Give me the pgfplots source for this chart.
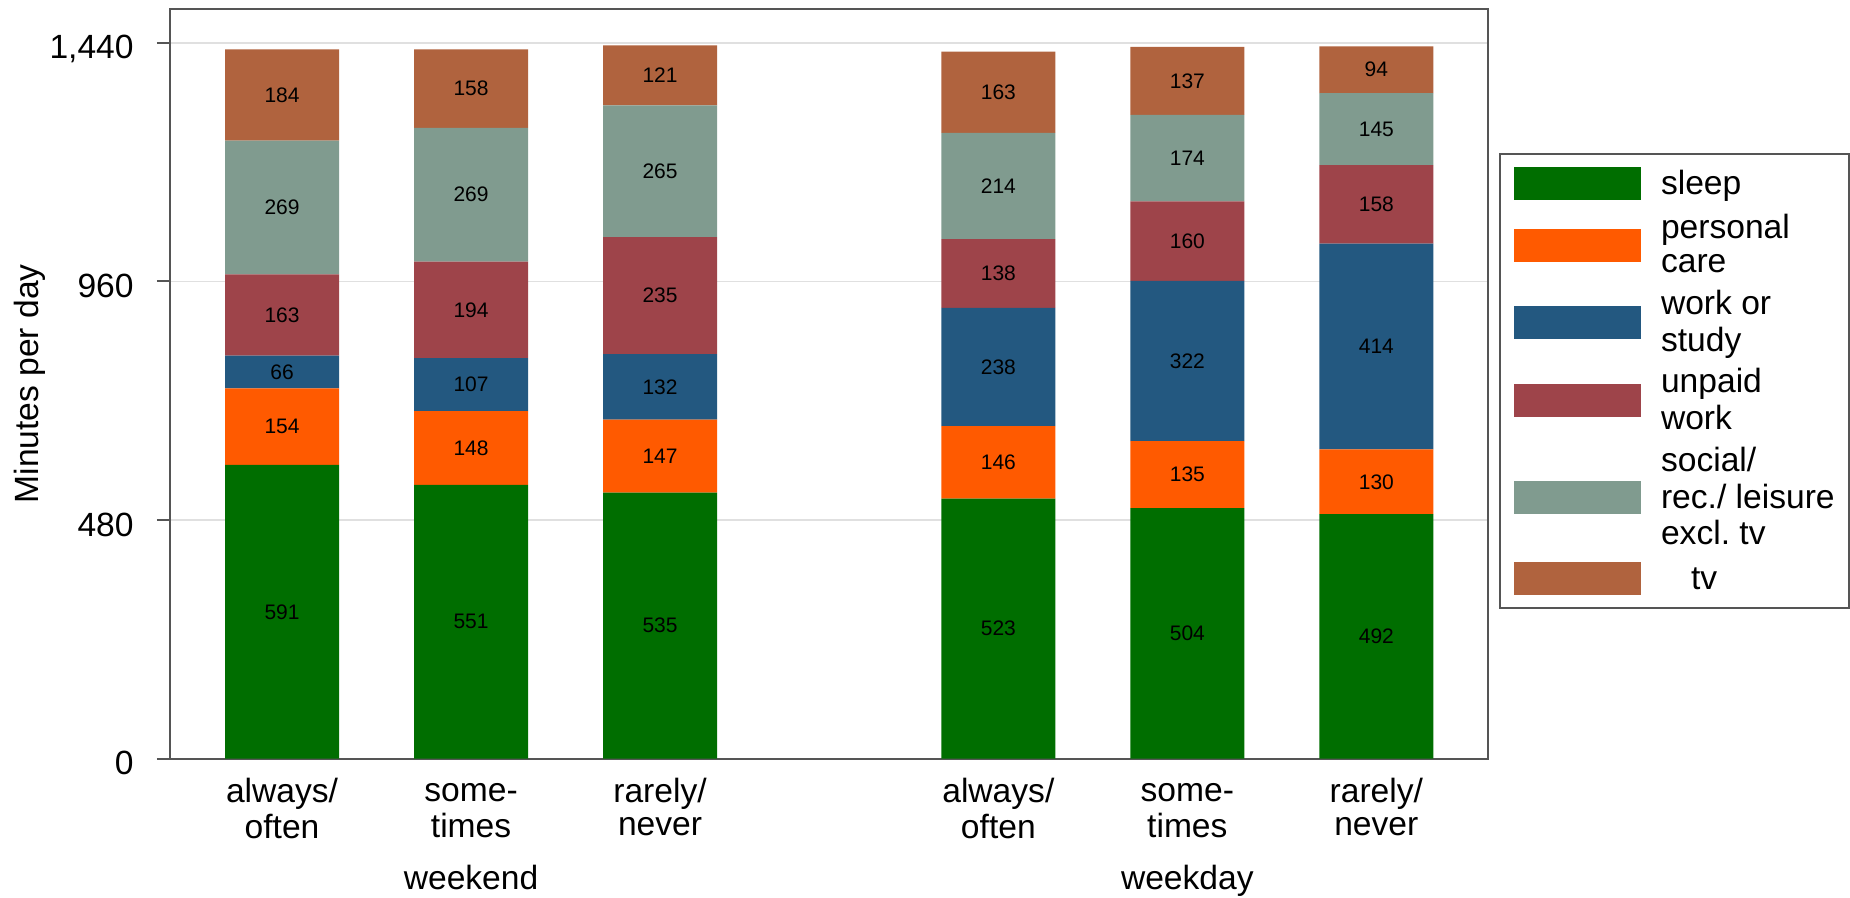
\documentclass[border=0pt]{standalone}
\usepackage{fontspec}
\setmainfont{Liberation Sans}
\usepackage{pgfplots}
\usepackage{pgfplotstable}
\pgfplotsset{compat=1.18}
\frenchspacing

\definecolor{csleep}{RGB}{0,110,0}
\definecolor{cpcare}{RGB}{255,90,0}
\definecolor{cwork}{RGB}{35,88,128}
\definecolor{cunpaid}{RGB}{158,68,74}
\definecolor{csocial}{RGB}{128,155,143}
\definecolor{ctv}{RGB}{176,99,62}
\definecolor{framegray}{RGB}{85,85,85}

\newcommand\bigfont{\fontsize{16.8}{16.5}\selectfont}
\newcommand\st{\rule[-5pt]{0pt}{16.5pt}}
\newcommand\lgfont{\fontsize{16.8}{17}\selectfont}
\newcommand\ls{\rule[-5.2pt]{0pt}{17pt}}

% minutes per day, weekend groups at 0-2, weekday groups at 3.79-5.79
\pgfplotstableread{
x     sleep pcare work unpaid social tv
0     591   154   66   163    269    184
1     551   148   107  194    269    158
2     535   147   132  235    265    121
3.79  523   146   238  138    214    163
4.79  504   135   322  160    174    137
5.79  492   130   414  158    145    94
}\minutes

\begin{document}
\begin{tikzpicture}
\begin{axis}[
  name=ax,
  x=94.5pt, y=0.2486pt,
  xmin=-0.593, xmax=6.381, ymin=0, ymax=1508,
  clip=false,
  ybar stacked, bar width=0.603,
  every axis plot/.append style={draw=none,
    legend image code/.code={\fill[##1] (0pt,-8.25pt) rectangle (63.5pt,8.25pt);}},
  axis line style={draw=framegray, line width=1pt},
  ytick={0,480,960,1440},
  ytick pos=left,
  ymajorgrids, grid style={draw=black!12, line width=0.75pt},
  tick align=outside, major tick length=6.5pt,
  ytick style={draw=framegray, line width=1pt},
  xtick={0,1,2,3.79,4.79,5.79},
  xtick style={draw=none},
  xticklabels={{always/\st\\often\st},{some-\st\\times\st},{rarely/\st\\never\st},
               {always/\st\\often\st},{some-\st\\times\st},{rarely/\st\\never\st}},
  xticklabel style={font=\bigfont, align=center, anchor=north, inner sep=0pt, yshift=-3pt},
  yticklabel style={font=\bigfont, anchor=base east, inner sep=0pt, xshift=-11.5pt, yshift=-8pt},
  /pgf/number format/assume math mode=true,
  /pgf/number format/1000 sep={,},
  ylabel={Minutes per day},
  ylabel style={font=\bigfont, at={(axis description cs:-0.1062,0.5)}, anchor=center},
  visualization depends on={rawy \as \rawy},
  nodes near coords={\pgfmathprintnumber{\rawy}},
  every node near coord/.append style={anchor=center, font=\fontsize{10.5}{12}\selectfont,
    text=black},
  legend style={at={(axis description cs:1.00835,0.808)}, anchor=north west,
    draw=framegray, line width=1pt, inner xsep=7pt, inner ysep=6.5pt,
    row sep=7.2pt, column sep=10pt, font=\lgfont,
    nodes={inner sep=0pt, anchor=west, align=left}},
]
\addplot[fill=csleep]  table[x=x, y=sleep]  {\minutes};
\addplot[fill=cpcare]  table[x=x, y=pcare]  {\minutes};
\addplot[fill=cwork]   table[x=x, y=work]   {\minutes};
\addplot[fill=cunpaid] table[x=x, y=unpaid] {\minutes};
\addplot[fill=csocial] table[x=x, y=social] {\minutes};
\addplot[fill=ctv]     table[x=x, y=tv]     {\minutes};
\legend{sleep\ls, {personal\ls\\care\ls}, {work or\ls\\study\ls}, {unpaid\ls\\work\ls},
  {social/\ls\\rec./ leisure\ls\\excl. tv\ls}, \hspace*{15pt}tv\ls}

\node[font=\bigfont, anchor=base] at (axis cs:1,0) [yshift=-65.5pt] {weekend};
\node[font=\bigfont, anchor=base] at (axis cs:4.79,0) [yshift=-65.5pt] {weekday};
\end{axis}
\pgfresetboundingbox
\path[use as bounding box] ([xshift=-85pt,yshift=-69.5pt]ax.south west)
  rectangle ([xshift=181pt,yshift=4.5pt]ax.north east);
\end{tikzpicture}
\end{document}
